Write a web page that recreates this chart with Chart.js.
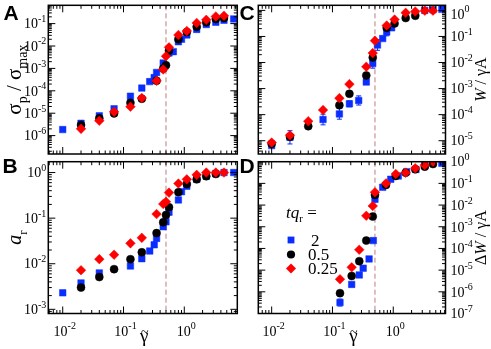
<!DOCTYPE html>
<html><head><meta charset="utf-8">
<script src="https://cdn.jsdelivr.net/npm/chart.js@4.4.0/dist/chart.umd.min.js"></script>
<style>
html,body{margin:0;padding:0;background:#fff;}
#wrap{position:relative;width:491px;height:349px;overflow:hidden;background:#fff;}
canvas{position:absolute;left:0;top:0;}
</style></head><body>
<div id="wrap">
<canvas id="pA" width="491" height="349"></canvas>
<canvas id="pB" width="491" height="349"></canvas>
<canvas id="pC" width="491" height="349"></canvas>
<canvas id="pD" width="491" height="349"></canvas>
</div>
<script>
// ---------------- data ----------------
const seriesLabels = ['2', '0.5', '0.25'];   // t q_r values
const dashedStrain = 0.5;
const xTickValues = [0.01, 0.1, 1];

// Panel A : sigma_p / sigma_max
const xA_blue = [0.01,0.02,0.04,0.07,0.13,0.2,0.27,0.32,0.35,0.45,0.56,0.66,0.8,0.9,1.1,1.6,2.3,3.3,4.5,6.5];
const yA_blue = [1.86e-6,3.55e-6,7.6e-6,1.58e-5,5.75e-5,1.32e-4,2.57e-4,3.89e-4,6.6e-4,1.74e-3,4.9e-3,5.6e-3,1.55e-2,2.0e-2,3.1e-2,5.5e-2,9.1e-2,0.115,0.141,0.162];
const xA_black = [0.02,0.04,0.07,0.13,0.2,0.35,0.45,0.5,0.56,0.8,1.1,1.6,2.3,3.3,4.5];
const yA_black = [3.0e-6,5.9e-6,9.8e-6,2.9e-5,4.4e-5,2.8e-4,9.8e-4,1.38e-3,6.2e-3,2.0e-2,4.2e-2,7.2e-2,0.115,0.162,0.178];
const xA_red = [0.02,0.04,0.07,0.13,0.2,0.35,0.45,0.5,0.56,0.8,1.1,1.6,2.3,3.3,4.5];
const yA_red = [2.0e-6,4.6e-6,1.15e-5,1.95e-5,4.8e-5,2.8e-4,8.9e-4,3.5e-3,8.7e-3,3.1e-2,4.7e-2,0.107,0.148,0.209,0.224];
const yTicksA = [1e-6,1e-5,1e-4,1e-3,1e-2,1e-1];

// Panel B : a_r
const xB_blue = [0.01,0.02,0.04,0.13,0.2,0.27,0.32,0.35,0.45,0.5,0.56,0.8,0.9,1.1,1.6,2.3,3.3,4.5,6.5];
const yB_blue = [2.3e-3,3.8e-3,6.3e-3,8.9e-3,1.29e-2,1.9e-2,2.6e-2,3.6e-2,6.5e-2,8.3e-2,0.135,0.251,0.38,0.50,0.71,0.83,0.95,1.0,1.0];
const xB_black = [0.02,0.04,0.07,0.13,0.2,0.35,0.45,0.5,0.56,0.8,1.1,1.6,2.3,3.3];
const yB_black = [3.0e-3,5.1e-3,7.6e-3,1.26e-2,1.78e-2,4.7e-2,8.1e-2,0.117,0.174,0.37,0.56,0.71,0.83,0.93];
const xB_red = [0.02,0.04,0.07,0.13,0.2,0.35,0.45,0.5,0.56,0.8,1.1,1.6,2.3,3.3,4.5];
const yB_red = [7.2e-3,1.26e-2,1.58e-2,2.8e-2,3.7e-2,0.123,0.204,0.229,0.363,0.575,0.71,0.89,1.0,1.0,1.0];
const yTicksB = [1e-3,1e-2,1e-1,1];

// Panel C : W / gamma A
const xC_blue = [0.01,0.02,0.07,0.13,0.19,0.27,0.36,0.46,0.55,0.67,0.78,0.94,3.3,4.5,6.3];
const yC_blue = [6.5e-6,1.35e-5,6.5e-5,1.07e-4,2.6e-4,3.5e-4,1.78e-3,9.1e-3,4.7e-2,8.3e-2,0.148,0.214,1.0,1.05,1.1];
const eC_blue = [1.15,1.8,1.6,1.6,1.3,1.5,1.15,1.5,1.6,1.15,1.4,1.1,1.1,1.1,1.1]; // error factors
const xC_black = [0.01,0.02,0.04,0.13,0.19,0.36,0.46,0.78,1.05,1.6,2.3];
const yC_black = [7.6e-6,1.41e-5,3.6e-5,2.3e-4,6.3e-4,3.2e-3,1.55e-2,0.214,0.316,0.51,0.62];
const xC_red = [0.01,0.02,0.04,0.07,0.13,0.19,0.36,0.46,0.5,0.78,1.05,1.6,2.3,3.3,4.5];
const yC_red = [8.5e-6,1.62e-5,5.6e-5,1.51e-4,4.3e-4,1.48e-3,6.9e-3,2.3e-2,6.9e-2,0.263,0.447,0.81,0.91,0.98,0.98];
const yTicksC = [1e-5,1e-4,1e-3,1e-2,1e-1,1];

// Panel D : Delta W / gamma A
const xD_blue = [0.133,0.207,0.276,0.32,0.40,0.47,0.5,0.67,0.91,1.21,1.66,2.36,3.3,6.3];
const yD_blue = [3.2e-7,2.2e-6,6.0e-6,1.23e-5,3.3e-5,2.3e-4,1.86e-2,6.6e-2,0.155,0.219,0.347,0.437,0.71,0.85];
const eD_blue = [1.45,1.25,1.1,1.1,1.05,1.05,1.3,1.25,1.05,1.05,1.05,1.05,1.05,1.05];
const xD_black = [0.133,0.207,0.276,0.36,0.46,0.5,0.76,1.1,1.6,2.3,3.3,4.5];
const yD_black = [8.7e-7,5.4e-6,2.6e-5,2.3e-4,2.95e-3,2.95e-2,8.5e-2,0.219,0.31,0.447,0.59,0.78];
const xD_red = [0.133,0.207,0.276,0.36,0.46,0.5,0.76,1.1,1.6,2.3,3.3,4.5];
const yD_red = [3.8e-6,1.35e-5,8.7e-5,3.2e-3,9.1e-3,3.9e-2,0.1,0.27,0.31,0.50,0.71,1.0];
const yTicksD = [1e-7,1e-6,1e-5,1e-4,1e-3,1e-2,1e-1,1];

// ---------------- style ----------------
const BLUE = '#0a2dff', BLACK = '#000000', RED = '#ff0000';
const DASH = 'rgb(190,125,125)';
const SERIF = '"Liberation Serif","Times New Roman",serif';
const SANS = '"Liberation Sans",Arial,sans-serif';

function pts(xs, ys) { return xs.map((x, i) => ({x: x, y: ys[i]})); }
function dsBlue(xs, ys, err) {
  return {label: seriesLabels[0], data: pts(xs, ys), err: err, order: 2,
    pointStyle: 'rect', pointRadius: 4.6, backgroundColor: BLUE, borderColor: BLUE, borderWidth: 0.5, showLine: false};
}
function dsBlack(xs, ys) {
  return {label: seriesLabels[1], data: pts(xs, ys), order: 1,
    pointStyle: 'circle', pointRadius: 4, backgroundColor: BLACK, borderColor: BLACK, borderWidth: 0.5, showLine: false};
}
function dsRed(xs, ys) {
  return {label: seriesLabels[2], data: pts(xs, ys), order: 0,
    pointStyle: 'rectRot', pointRadius: 4.8, backgroundColor: RED, borderColor: RED, borderWidth: 0.5, showLine: false};
}

function rich(ctx, x, y, rot, parts, align) {
  // parts: [text, sizePx, dyFactor, italic]
  ctx.save();
  ctx.translate(x, y); ctx.rotate(rot);
  let w = 0;
  parts.forEach(p => { ctx.font = (p[3] ? 'italic ' : '') + p[1] + 'px ' + SERIF; p.w = ctx.measureText(p[0]).width; w += p.w; });
  let cx = align === 'left' ? 0 : align === 'right' ? -w : -w / 2;
  const main = parts[0][1];
  ctx.textBaseline = 'alphabetic'; ctx.textAlign = 'left'; ctx.fillStyle = '#000';
  parts.forEach(p => {
    ctx.font = (p[3] ? 'italic ' : '') + p[1] + 'px ' + SERIF;
    ctx.fillText(p[0], cx, main * 0.34 + p[2] * main);
    cx += p.w;
  });
  ctx.restore();
}

function tickLabel(ctx, v, x, y, align) {
  const e = Math.round(Math.log10(v));
  rich(ctx, x, y, 0, [['10', 14, 0], [String(e), 10, -0.45]], align);
}

function gammaTilde(ctx, x, y) {
  ctx.save();
  ctx.fillStyle = '#000'; ctx.textAlign = 'center'; ctx.textBaseline = 'alphabetic';
  ctx.font = '19px ' + SERIF;
  ctx.fillText('\u03B3', x, y);
  ctx.font = '14px ' + SERIF;
  ctx.fillText('~', x + 0.5, y - 5);
  ctx.restore();
}

function drawMarker(ctx, style, color, x, y) {
  ctx.save(); ctx.fillStyle = color; ctx.beginPath();
  if (style === 'rect') { ctx.rect(x - 3.4, y - 3.4, 6.8, 6.8); }
  else if (style === 'circle') { ctx.arc(x, y, 4.1, 0, Math.PI * 2); }
  else { ctx.moveTo(x - 5, y); ctx.lineTo(x, y - 5); ctx.lineTo(x + 5, y); ctx.lineTo(x, y + 5); ctx.closePath(); }
  ctx.fill(); ctx.restore();
}

function decoPlugin(cfg) {
  return {
    id: 'deco',
    beforeDatasetsDraw(chart) {
      const ctx = chart.ctx, a = chart.chartArea, xs = chart.scales.x, ys = chart.scales.y;
      const px = xs.getPixelForValue(dashedStrain);
      ctx.save();
      ctx.strokeStyle = DASH; ctx.lineWidth = 1; ctx.setLineDash([5, 3]);
      ctx.beginPath(); ctx.moveTo(px, a.top); ctx.lineTo(px, a.bottom); ctx.stroke();
      ctx.restore();
      chart.data.datasets.forEach(ds => {
        if (!ds.err) return;
        ctx.save(); ctx.strokeStyle = ds.borderColor; ctx.lineWidth = 1;
        ds.data.forEach((p, i) => {
          const f = ds.err[i]; if (!f || f <= 1.06) return;
          const X = xs.getPixelForValue(p.x);
          const y1 = ys.getPixelForValue(p.y / f), y2 = ys.getPixelForValue(p.y * f);
          ctx.beginPath();
          ctx.moveTo(X, y1); ctx.lineTo(X, y2);
          ctx.moveTo(X - 2.5, y1); ctx.lineTo(X + 2.5, y1);
          ctx.moveTo(X - 2.5, y2); ctx.lineTo(X + 2.5, y2);
          ctx.stroke();
        });
        ctx.restore();
      });
    },
    afterDraw(chart) {
      const ctx = chart.ctx, a = chart.chartArea, xs = chart.scales.x, ys = chart.scales.y;
      ctx.save();
      // ticks
      ctx.strokeStyle = '#000'; ctx.lineWidth = 1;
      ctx.beginPath();
      [[xs, true], [ys, false]].forEach(([s, hor]) => {
        const d0 = Math.floor(Math.log10(s.min)), d1 = Math.ceil(Math.log10(s.max));
        for (let d = d0; d <= d1; d++) for (let k = 1; k <= 9; k++) {
          const v = k * Math.pow(10, d);
          if (v < s.min * 0.9999 || v > s.max * 1.0001) continue;
          const p = s.getPixelForValue(v), L = k === 1 ? 7 : 3.5;
          if (hor) { ctx.moveTo(p, a.bottom); ctx.lineTo(p, a.bottom - L); ctx.moveTo(p, a.top); ctx.lineTo(p, a.top + L); }
          else { ctx.moveTo(a.left, p); ctx.lineTo(a.left + L, p); ctx.moveTo(a.right, p); ctx.lineTo(a.right - L, p); }
        }
      });
      ctx.stroke();
      // frame
      ctx.lineWidth = 1.5;
      ctx.strokeRect(a.left, a.top, a.right - a.left, a.bottom - a.top);
      ctx.restore();
      // y tick labels
      cfg.yTicks.forEach(v => {
        let py = ys.getPixelForValue(v);
        if (cfg.clampTop !== undefined) py = Math.max(py, cfg.clampTop);
        if (cfg.side === 'left') tickLabel(ctx, v, a.left - 2, py, 'right');
        else tickLabel(ctx, v, a.right + 5, py, 'left');
      });
      // x tick labels
      if (cfg.xLabels) {
        xTickValues.forEach(v => tickLabel(ctx, v, xs.getPixelForValue(v) + 2, 331, 'center'));
        gammaTilde(ctx, (a.left + a.right) / 2 + 1.5, 342);
      }
      // axis title
      const tx = cfg.side === 'left' ? 14 : 481, ty = (a.top + a.bottom) / 2;
      rich(ctx, tx, ty, -Math.PI / 2, cfg.title, 'center');
      // panel letter
      ctx.save(); ctx.font = 'bold 21px ' + SANS; ctx.fillStyle = '#000';
      ctx.textAlign = 'center'; ctx.textBaseline = 'middle';
      ctx.fillText(cfg.letter, cfg.letterPos[0], cfg.letterPos[1]);
      ctx.restore();
      // legend
      if (cfg.legend) {
        rich(ctx, 286, 212, 0, [['t', 17, 0, true], ['q', 17, 0, true], ['r', 11, 0.25], [' =', 17, 0]], 'left');
        const dss = chart.data.datasets;
        const order = [2, 1, 0];
        const rows = [240, 254.5, 268.5];
        order.forEach((idx, r) => {
          const ds = dss[idx];
          drawMarker(ctx, ds.pointStyle, ds.backgroundColor, 291, rows[r]);
          const txt = ds.label;
          rich(ctx, txt.length === 1 ? 311 : 308, rows[r], 0, [[txt, 17, 0]], 'left');
        });
      }
    }
  };
}

function makePanel(id, datasets, xr, yr, pad, cfg) {
  new Chart(document.getElementById(id), {
    type: 'scatter',
    data: {datasets: datasets},
    options: {
      responsive: false, animation: false, events: [],
      layout: {padding: pad},
      plugins: {legend: {display: false}, tooltip: {enabled: false}},
      scales: {
        x: {type: 'logarithmic', min: xr[0], max: xr[1], display: false},
        y: {type: 'logarithmic', min: yr[0], max: yr[1], display: false}
      }
    },
    plugins: [decoPlugin(cfg)]
  });
}

const xRangeLeft = [0.00579, 7.45];
const xRangeRight = [0.00603, 7.23];

makePanel('pA', [dsRed(xA_red, yA_red), dsBlack(xA_black, yA_black), dsBlue(xA_blue, yA_blue)],
  xRangeLeft, [1.51e-7, 0.656], {left: 48.3, top: 2, right: 253.7, bottom: 195},
  {side: 'left', yTicks: yTicksA, letter: 'A', letterPos: [11, 14],
   title: [['\u03C3', 21, 0], ['p', 14, 0.3], [' / ', 21, 0], ['\u03C3', 21, 0], ['max', 14, 0.3]]});

makePanel('pB', [dsRed(xB_red, yB_red), dsBlack(xB_black, yB_black), dsBlue(xB_blue, yB_blue)],
  xRangeLeft, [8.1e-4, 1.73], {left: 48.3, top: 161.7, right: 253.7, bottom: 35.5},
  {side: 'left', yTicks: yTicksB, letter: 'B', letterPos: [10, 167], xLabels: true,
   title: [['a', 20, 0, true], ['r', 13, 0.3]]});

makePanel('pC', [dsRed(xC_red, yC_red), dsBlack(xC_black, yC_black), dsBlue(xC_blue, yC_blue, eC_blue)],
  xRangeRight, [3.09e-6, 1.57], {left: 258.3, top: 2, right: 45.5, bottom: 195},
  {side: 'right', yTicks: yTicksC, letter: 'C', letterPos: [247, 14], clampTop: 14,
   title: [['W', 16, 0, true], [' / ', 16, 0], ['\u03B3A', 16, 0]]});

makePanel('pD', [dsRed(xD_red, yD_red), dsBlack(xD_black, yD_black), dsBlue(xD_blue, yD_blue, eD_blue)],
  xRangeRight, [1e-7, 1], {left: 258.3, top: 161.7, right: 45.5, bottom: 35.5},
  {side: 'right', yTicks: yTicksD, letter: 'D', letterPos: [247, 167], xLabels: true, legend: true,
   title: [['\u0394', 16, 0], ['W', 16, 0, true], [' / ', 16, 0], ['\u03B3A', 16, 0]]});
</script>
</body></html>
